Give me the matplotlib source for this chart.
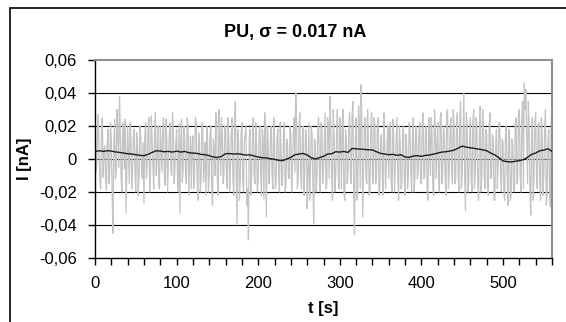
import numpy as np
import matplotlib
matplotlib.use('Agg')
import matplotlib.pyplot as plt
from matplotlib.patches import Rectangle
from matplotlib.ticker import MultipleLocator, FuncFormatter

plt.rcParams['font.family'] = ['Liberation Sans', 'DejaVu Sans']

# raw current in 1e-3 nA, even seconds (0, 2, ... 560)
i_even = [
    33, -5, 27, -13, 20, -11, 8, -19, 18, -10,
    12, -45, 24, -8, 15, 38, -12, 22, -6, -33,
    20, -15, 14, -5, 18, -20, 10, -10, 15, -12,
    -27, 22, -3, 25, -8, 12, -18, 28, 2, -14,
    20, -8, 25, -16, 10, 0, 22, -10, 15, -5,
    18, -20, -33, 24, -6, 12, -15, 20, 2, -18,
    14, -8, 22, -25, 10, -12, 18, -5, -22, 12,
    -10, 20, -28, 5, 28, -15, 30, -10, 15, -8,
    20, -18, 12, -5, 25, -22, 35, -40, 10, -12,
    22, -20, 15, -28, -49, 18, -10, 25, -15, 8,
    -12, 20, -22, 12, 28, -35, 15, -8, 20, -18,
    10, -14, 18, -20, 5, -10, 22, -15, 8, -12,
    15, -5, 25, 40, -18, 20, -10, 12, -22, 18,
    -30, 22, -8, 15, -39, 10, -12, 25, -20, 18,
    -5, 28, -15, 20, 38, -10, 30, -20, 15, -8,
    25, -18, 30, -25, 12, -10, 28, -15, 35, -46,
    25, -20, 20, 45, -35, 18, -12, 30, -22, 20,
    -10, 25, -15, 20, -22, 12, -8, 28, -18, 10,
    -12, 22, -20, 15, -5, 25, -25, 10, -15, 20,
    -22, 8, -10, 18, -20, 25, -12, 15, -8, 22,
    -15, 28, -10, 20, -25, 12, 25, -18, 30, -12,
    22, -20, 28, -8, 15, -22, 30, -10, 25, -15,
    20, -12, 28, -20, 35, -10, 40, -31, 22, -15,
    25, -20, 30, -8, 18, -25, 32, -12, 20, -18,
    15, -22, 28, -10, 12, -25, 18, -5, 22, -20,
    10, -25, 20, -28, 15, -22, 8, -18, 25, -12,
    30, -20, 35, 46, 42, -15, 20, -34, 25, -10,
    28, -18, 22, -25, 15, -8, 30, -22, 18, -29,
    30,
]
# raw current in 1e-3 nA, odd seconds (1, 3, ... 559)
i_odd = [
    -8, 15, 3, -18, 25, 6, -12, 10, -15, 22,
    -20, 8, -12, 30, -5, 18, -20, 10, 24, -8,
    5, 22, -18, 12, -8, 16, -22, 20, -6, 10,
    14, -12, 18, -20, 26, -5, 15, -10, 20, -18,
    6, 18, -12, 24, -20, 14, -6, 28, -15, 10,
    -8, 22, 10, -14, 20, -10, 25, -22, 14, 8,
    -18, 25, -10, 16, -20, 22, -14, 10, 20, -20,
    15, -18, 12, -10, 22, -22, 12, 25, -15, 20,
    -10, 25, -20, 15, -12, 20, -8, 18, -25, 15,
    -12, 10, 20, -18, 12, -22, 15, -10, 22, -20,
    15, -8, 18, -25, 10, 20, -15, 12, -10, 25,
    -18, 12, -8, 22, -16, 15, -20, 12, -10, 20,
    -20, 15, -8, 22, -12, 28, -18, 20, -8, 15,
    -10, -25, 20, -15, 12, -20, 18, -8, 22, -15,
    12, -18, 25, -12, 20, -25, 15, -10, 30, -18,
    15, 22, -20, 18, -15, 20, -8, 25, -20, 12,
    -25, 32, -18, 22, -10, 25, -15, 12, -20, 28,
    -15, 20, -10, 25, -18, 15, -22, 10, -5, 20,
    18, -15, 24, -20, 12, -10, 20, -18, 15, -12,
    15, -18, 22, -8, 12, -20, 20, -12, 18, -15,
    22, -12, 18, -20, 25, -10, 15, -22, 20, 8,
    -12, 25, -15, 20, -10, 28, -18, 15, -8, 30,
    -15, 22, -10, 25, -18, 15, -12, 28, -20, 10,
    -12, 22, -18, 25, -15, 12, -20, 30, -10, 18,
    -18, 20, -12, 15, -25, 10, -18, 22, -10, 12,
    -20, 15, -8, 18, -25, 12, -20, 22, -15, 28,
    -10, 25, -18, 30, 12, 35, -20, 15, -25, 22,
    -10, 20, -15, 25, -22, 18, -28, 12, -20, 22,
]

# smoothed current, every 5 s, in 1e-3 nA
i_avg = [
    4.5, 5.0, 4.6, 5.0, 4.8, 4.3, 4.0, 3.6, 3.2, 3.0,
    2.6, 2.2, 2.0, 2.8, 4.0, 5.0, 4.8, 4.4, 4.6, 4.2,
    4.8, 4.2, 4.6, 3.8, 3.6, 3.4, 2.8, 2.6, 2.0, 1.2,
    0.9, 1.6, 3.2, 3.3, 3.0, 3.2, 2.8, 2.4, 2.5, 1.8,
    1.2, 0.8, 0.6, 0.2, -0.2, -0.8, -1.0, 0.0, 1.0, 2.6,
    3.0, 3.4, 2.4, 0.8, 0.0, 0.8, 1.6, 3.0, 3.2, 4.4,
    4.2, 4.6, 4.0, 6.4, 6.2, 6.0, 5.8, 5.6, 5.5, 4.4,
    3.4, 3.0, 2.6, 2.8, 2.2, 2.6, 1.2, 1.0, 1.8, 2.0,
    1.6, 2.2, 2.4, 3.0, 3.6, 4.2, 4.4, 4.8, 5.4, 6.6,
    7.8, 7.2, 6.8, 6.4, 6.0, 5.6, 5.0, 3.6, 2.4, 0.8,
    -1.2, -1.6, -1.8, -1.4, -1.0, -0.4, 1.0, 2.8, 3.6, 5.0,
    5.4, 6.2, 4.6,
]

i_raw = np.zeros(561)
i_raw[0::2] = i_even
i_raw[1::2] = i_odd
i_raw = i_raw / 1000.0
t_raw = np.arange(561)
t_avg = np.arange(0, 561, 5)
i_avg = np.array(i_avg) / 1000.0

W, H = 566, 322
fig = plt.figure(figsize=(W / 100, H / 100), dpi=100)
ax = fig.add_axes([95 / W, 64 / H, 457 / W, 198 / H])

for y in [-0.04, -0.02, 0, 0.02, 0.04]:
    ax.axhline(y, color='black', lw=0.8, zorder=1)

ax.plot(t_raw, i_raw, color='#c4c4c4', lw=0.9, zorder=2)
ax.plot(t_avg, i_avg, color='#1e1e1e', lw=1.0, zorder=3)

ax.set_xlim(0, 560)
ax.set_ylim(-0.06, 0.06)
ax.xaxis.set_major_locator(MultipleLocator(100))
ax.xaxis.set_minor_locator(MultipleLocator(20))
ax.yaxis.set_major_locator(MultipleLocator(0.02))
ax.yaxis.set_major_formatter(FuncFormatter(
    lambda v, p: '0' if abs(v) < 1e-9 else f'{v:.2f}'.replace('.', ',')))
ax.tick_params(axis='both', which='both', direction='out', length=5, width=1, labelsize=12)
ax.tick_params(axis='y', pad=8)
ax.tick_params(axis='x', pad=8)

for s in ['left', 'bottom']:
    ax.spines[s].set_color('black')
    ax.spines[s].set_linewidth(1.0)
for s in ['top', 'right']:
    ax.spines[s].set_color('#909090')
    ax.spines[s].set_linewidth(1.5)

fig.text(295 / W, 1 - 32 / H, 'PU, σ = 0.017 nA', ha='center', va='center',
         fontsize=13, fontweight='bold')
fig.text(323 / W, 1 - 308 / H, 't [s]', ha='center', va='center',
         fontsize=12, fontweight='bold')
fig.text(25 / W, 1 - 159 / H, 'I [nA]', ha='center', va='center',
         fontsize=12, fontweight='bold', rotation=90)

fig.patches.append(Rectangle((10 / W, -0.1), 1.2, 1 - 8 / H + 0.1, fill=False,
                             edgecolor='black', lw=1.2, transform=fig.transFigure))

fig.savefig('out.png', dpi=100)
